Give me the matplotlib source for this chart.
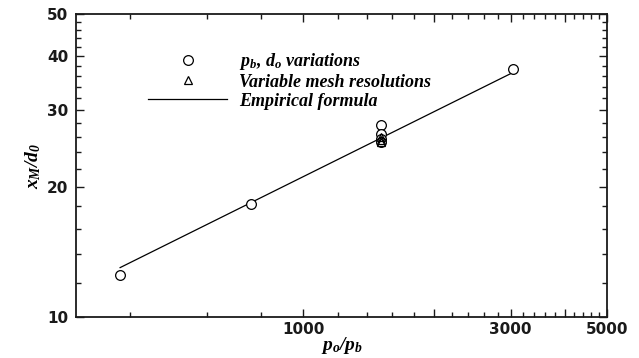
import matplotlib
matplotlib.use("Agg")
import matplotlib.pyplot as plt
from matplotlib.ticker import FixedLocator, NullFormatter, FixedFormatter

plt.rcParams['mathtext.fontset'] = 'custom'
plt.rcParams['mathtext.it'] = 'Liberation Serif:bold:italic'
plt.rcParams['mathtext.rm'] = 'Liberation Serif:bold:italic'
plt.rcParams['mathtext.bf'] = 'Liberation Serif:bold:italic'

# Data
circ_x = [379, 758, 1510, 1510, 1510, 1510, 3036]
circ_y = [12.5, 18.2, 27.7, 26.4, 25.7, 25.4, 37.3]
tri_x = [1510, 1510, 1510]
tri_y = [26.0, 25.6, 25.3]
line_x = [379, 3030]
line_y = [13.0, 36.6]

x_major = [1000, 2000, 3000, 4000, 5000]
x_labels = ['1000', '', '3000', '', '5000']
x_minor = [400, 600, 800, 1200, 1400, 1600, 1800, 2200, 2400, 2600, 2800,
           3200, 3400, 3600, 3800, 4200, 4400, 4600, 4800]
y_major = [10, 20, 30, 40, 50]
y_labels = ['10', '20', '30', '40', '50']
y_minor = [12, 14, 16, 18, 22, 24, 26, 28, 32, 34, 36, 38, 42, 44, 46, 48]

leg_labels = [r'$p_b$, $d_o$ variations', 'Variable mesh resolutions', 'Empirical formula']

fig = plt.figure(figsize=(6.39, 3.58), dpi=100)
ax = fig.add_axes([76/639, 41/358, (607-76)/639, (317-14)/358])

h1, = ax.plot(circ_x, circ_y, 'o', mfc='white', mec='black', ms=7, mew=0.9, ls='none', zorder=3)
h2, = ax.plot(tri_x, tri_y, '^', mfc='none', mec='black', ms=6, mew=0.9, ls='none', zorder=4)
h3, = ax.plot(line_x, line_y, '-', color='black', lw=0.9, zorder=2)

ax.set_xscale('log')
ax.set_yscale('log')
ax.set_xlim(300, 5000)
ax.set_ylim(10, 50)

ax.xaxis.set_major_locator(FixedLocator(x_major))
ax.xaxis.set_major_formatter(FixedFormatter(x_labels))
ax.xaxis.set_minor_locator(FixedLocator(x_minor))
ax.xaxis.set_minor_formatter(NullFormatter())
ax.yaxis.set_major_locator(FixedLocator(y_major))
ax.yaxis.set_major_formatter(FixedFormatter(y_labels))
ax.yaxis.set_minor_locator(FixedLocator(y_minor))
ax.yaxis.set_minor_formatter(NullFormatter())

ax.tick_params(which='both', direction='in', top=True, right=True, width=1.0, color='#1a1a1a')
ax.tick_params(which='major', length=6)
ax.tick_params(which='minor', length=3.8)
ax.tick_params(axis='y', which='major', pad=5.5)
ax.tick_params(axis='x', which='major', pad=3.5)
for lab in ax.get_xticklabels() + ax.get_yticklabels():
    lab.set_fontfamily('DejaVu Sans')
    lab.set_fontweight('bold')
    lab.set_fontsize(11)
    lab.set_color('#1a1a1a')

for s in ax.spines.values():
    s.set_linewidth(1.3)
    s.set_color('#1a1a1a')

ax.set_xlabel(r'$p_o/p_b$', fontsize=14, labelpad=-1)
ax.set_ylabel(r'$x_M/d_0$', fontsize=14, labelpad=3)

leg = ax.legend([h1, h2, h3], leg_labels, loc='upper left',
                bbox_to_anchor=(148/639, 1 - 51/358), bbox_transform=fig.transFigure,
                frameon=False, borderpad=0, borderaxespad=0,
                handlelength=4.4, handletextpad=0.66, labelspacing=0.1,
                prop={'family': 'Liberation Serif', 'weight': 'bold', 'style': 'italic', 'size': 13})

fig.savefig('out.png', dpi=100)
